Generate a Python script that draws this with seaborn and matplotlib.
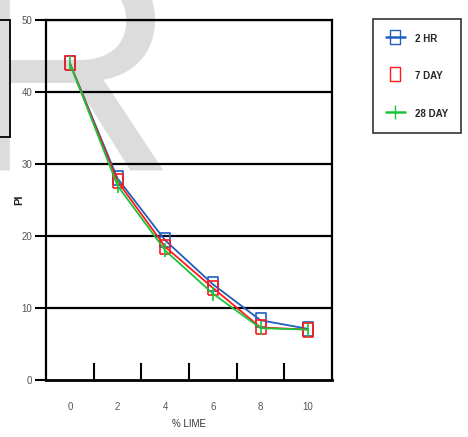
import matplotlib
matplotlib.use("Agg")
import matplotlib.pyplot as plt
from matplotlib import font_manager
from matplotlib.lines import Line2D
import seaborn as sns
import pandas as pd

lime = [0, 2, 4, 6, 8, 10]
pi_2hr = [44, 28, 19.4, 13.3, 8.3, 7.1]
pi_7day = [44, 27.6, 18.5, 12.8, 7.3, 7.0]
pi_28day = [44, 27, 18, 12, 7.2, 7.0]
series = ["2 HR", "7 DAY", "28 DAY"]
colors = ["#1f5fbf", "#ff1a1a", "#19c43a"]
x_labels = ["0", "2", "4", "6", "8", "10"]
y_ticks = [0, 10, 20, 30, 40, 50]

values = {"2 HR": pi_2hr, "7 DAY": pi_7day, "28 DAY": pi_28day}

sns.set_style("white")
try:
    font_manager.findfont("Liberation Sans Narrow", fallback_to_default=False)
    narrow = "Liberation Sans Narrow"
except Exception:
    narrow = "Liberation Sans"
plt.rcParams["font.family"] = [narrow, "DejaVu Sans"]

fig = plt.figure(figsize=(4.68, 4.37), dpi=100)
fig.patch.set_facecolor("white")

# watermark (behind everything)
fig.text(-44 / 468, 1 - 170 / 437, "R", fontsize=221, color="#dcdcdc",
         family=narrow, ha="left", va="baseline", zorder=-10)

# cropped box on left
for xs, ys in [([0, 10], [20, 20]), ([10, 10], [20, 137]), ([0, 10], [137, 137])]:
    fig.add_artist(Line2D([v / 468 for v in xs], [1 - v / 437 for v in ys],
                          color="black", lw=1.3, transform=fig.transFigure))

ax = fig.add_axes([46 / 468, 1 - 380 / 437, 286 / 468, 360 / 437])
ax.set_facecolor("none")

rect = [(-0.35, -0.5), (0.35, -0.5), (0.35, 0.5), (-0.35, 0.5), (-0.35, -0.5)]
markers = {"2 HR": rect, "7 DAY": rect, "28 DAY": "|"}
for s, c in zip(series, colors):
    d = pd.DataFrame({"lime": lime, "PI": values[s]})
    sns.lineplot(data=d, x="lime", y="PI", color=c, marker=markers[s],
                 markersize=10, markerfacecolor="none", markeredgecolor=c,
                 markeredgewidth=1.2, lw=1.3, ax=ax, zorder=3)

ax.set_xlim(-1, 11)
ax.set_ylim(0, 50)
ax.set_yticks(y_ticks)
ax.set_yticklabels([str(v) for v in y_ticks], fontsize=7, color="#555555")
for y in y_ticks[1:]:
    ax.axhline(y, color="black", lw=1.6, zorder=1)
ax.set_xticks([1, 3, 5, 7, 9])
ax.set_xticklabels([])
ax.set_xticks(lime, minor=True)
ax.set_xticklabels(x_labels, minor=True, fontsize=7, color="#555555")
ax.tick_params(axis="x", which="major", direction="in", length=12, width=1.5, color="black")
ax.tick_params(axis="x", which="minor", length=0, pad=16)
ax.tick_params(axis="y", direction="out", length=8, width=1.5, color="black", pad=2)
ax.yaxis.set_ticks_position("left")
ax.xaxis.set_ticks_position("bottom")
for sp in ax.spines.values():
    sp.set_color("black")
    sp.set_linewidth(1.6)
ax.spines["bottom"].set_linewidth(2)
ax.set_xlabel("% LIME", fontsize=7, labelpad=5, color="#333333")
ax.set_ylabel("PI", fontsize=8, weight="bold", color="#222222")
ax.yaxis.set_label_coords(-0.075, 0.5)

handles = [Line2D([], [], color=c, marker=markers[s], markersize=10, markerfacecolor="none",
                  markeredgecolor=c, lw=1.8 if s != "7 DAY" else 0)
           for s, c in zip(series, colors)]
leg = fig.legend(handles, series, loc="upper left",
                 bbox_to_anchor=(368 / 468, 1 - 14 / 437),
                 frameon=True, fancybox=False, edgecolor="black",
                 labelspacing=2.45, handlelength=2.0, handleheight=1.8,
                 borderpad=1.3, handletextpad=1.0,
                 prop={"family": narrow, "weight": "bold", "size": 7})
leg.get_frame().set_linewidth(1.2)

fig.savefig("out.png", dpi=100)
